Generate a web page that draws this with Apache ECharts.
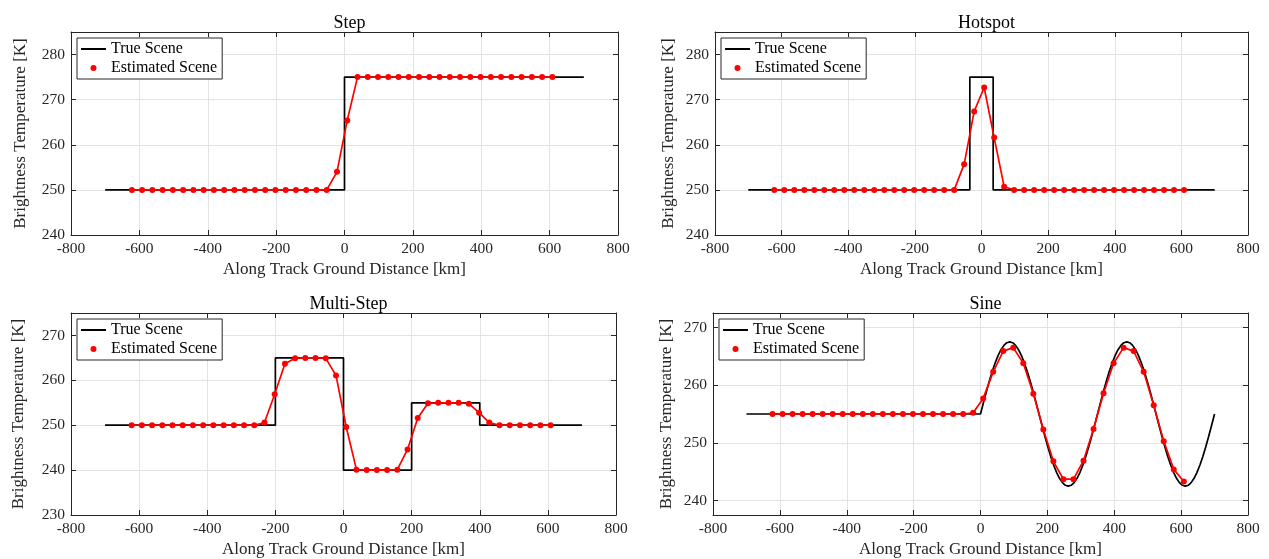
<!DOCTYPE html>
<html>
<head>
<meta charset="utf-8">
<script src="https://cdn.jsdelivr.net/npm/echarts@6/dist/echarts.min.js"></script>
<style>
html,body{margin:0;padding:0;background:#fff;}
#chart{width:1269px;height:559px;}
</style>
</head>
<body>
<div id="chart"></div>
<script>
// ---------- data ----------
const titles = ['Step', 'Hotspot', 'Multi-Step', 'Sine'];
const seriesNames = ['True Scene', 'Estimated Scene'];
const xAxisName = 'Along Track Ground Distance [km]';
const yAxisName = 'Brightness Temperature [K]';

const estX = [-622,-592,-562,-532,-502,-472,-442,-412,-382,-352,-322,-292,-262,-232,-202,-172,-142,-112,-82,-52,-22,8,38,68,98,128,158,188,218,248,278,308,338,368,398,428,458,488,518,548,578,608];

const stepTrueX = [-700, 0, 0, 700];
const stepTrueY = [250, 250, 275, 275];
const stepEstY = [250,250,250,250,250,250,250,250,250,250,250,250,250,250,250,250,250,250,250,250,254,265.4,275,275,275,275,275,275,275,275,275,275,275,275,275,275,275,275,275,275,275,275];

const hotTrueX = [-700, -35, -35, 35, 35, 700];
const hotTrueY = [250, 250, 275, 275, 250, 250];
const hotEstY = [250,250,250,250,250,250,250,250,250,250,250,250,250,250,250,250,250,250,250,255.7,267.4,272.7,261.6,250.7,250,250,250,250,250,250,250,250,250,250,250,250,250,250,250,250,250,250];

const multiTrueX = [-700, -200, -200, 0, 0, 200, 200, 400, 400, 700];
const multiTrueY = [250, 250, 265, 265, 240, 240, 255, 255, 250, 250];
const multiEstY = [250,250,250,250,250,250,250,250,250,250,250,250,250,250.6,256.9,263.7,264.9,265,265,264.9,261.1,249.6,240.1,240,240,240,240.1,244.6,251.6,254.9,255,255,255,254.8,252.8,250.6,250,250,250,250,250,250];

const sineTrueX = [-700,0,8.75,17.5,26.25,35,43.75,52.5,61.25,70,78.75,87.5,96.25,105,113.75,122.5,131.25,140,148.75,157.5,166.25,175,183.75,192.5,201.25,210,218.75,227.5,236.25,245,253.75,262.5,271.25,280,288.75,297.5,306.25,315,323.75,332.5,341.25,350,358.75,367.5,376.25,385,393.75,402.5,411.25,420,428.75,437.5,446.25,455,463.75,472.5,481.25,490,498.75,507.5,516.25,525,533.75,542.5,551.25,560,568.75,577.5,586.25,595,603.75,612.5,621.25,630,638.75,647.5,656.25,665,673.75,682.5,691.25,700];
const sineTrueY = [255,255,256.96,258.86,260.68,262.35,263.84,265.11,266.14,266.89,267.35,267.5,267.35,266.89,266.14,265.11,263.84,262.35,260.68,258.86,256.96,255,253.04,251.14,249.32,247.65,246.16,244.89,243.86,243.11,242.65,242.5,242.65,243.11,243.86,244.89,246.16,247.65,249.32,251.14,253.04,255,256.96,258.86,260.68,262.35,263.84,265.11,266.14,266.89,267.35,267.5,267.35,266.89,266.14,265.11,263.84,262.35,260.68,258.86,256.96,255,253.04,251.14,249.32,247.65,246.16,244.89,243.86,243.11,242.65,242.5,242.65,243.11,243.86,244.89,246.16,247.65,249.32,251.14,253.04,255];
const sineEstY = [255,255,255,255,255,255,255,255,255,255,255,255,255,255,255,255,255,255,255,255,255.2,257.7,262.3,265.9,266.5,263.8,258.5,252.3,246.8,243.7,243.7,246.9,252.4,258.6,263.8,266.5,265.9,262.3,256.5,250.3,245.4,243.3];

const xTicks = {min: -800, max: 800, interval: 200};
const yRanges = [
  {min: 240, max: 285, interval: 10},
  {min: 240, max: 285, interval: 10},
  {min: 230, max: 275, interval: 10},
  {min: 237.5, max: 272.5, splitNumber: 4}
];

// ---------- layout ----------
const FONT = '"Liberation Serif", "DejaVu Serif", serif';
const grids = [
  {left: 71, top: 32, width: 547, height: 203},
  {left: 715, top: 32, width: 533, height: 203},
  {left: 71, top: 313, width: 545, height: 204},
  {left: 713, top: 313, width: 535, height: 204}
];
const yNameGaps = [42, 38, 44, 38];

const panels = [
  {tx: stepTrueX, ty: stepTrueY, ey: stepEstY},
  {tx: hotTrueX, ty: hotTrueY, ey: hotEstY},
  {tx: multiTrueX, ty: multiTrueY, ey: multiEstY},
  {tx: sineTrueX, ty: sineTrueY, ey: sineEstY}
];

const axisColor = '#262626';
const gridColor = '#e3e3e3';
const option = {
  animation: false,
  backgroundColor: '#fff',
  title: [], grid: [], xAxis: [], yAxis: [], series: [], legend: []
};

panels.forEach((p, i) => {
  const g = grids[i];
  option.grid.push({left: g.left, top: g.top, width: g.width, height: g.height, show: false});
  option.title.push({
    text: titles[i],
    left: g.left + g.width / 2, top: g.top - 23, textAlign: 'center',
    textStyle: {fontFamily: FONT, fontSize: 18, fontWeight: 'normal', color: '#000'}
  });
  const tickStyle = {inside: true, length: 5, lineStyle: {color: axisColor, width: 1}};
  const labelStyle = {fontFamily: FONT, fontSize: 15.5, color: '#262626'};
  // bottom x axis
  option.xAxis.push({
    gridIndex: i, type: 'value', position: 'bottom',
    min: xTicks.min, max: xTicks.max, interval: xTicks.interval,
    name: xAxisName, nameLocation: 'middle', nameGap: 26,
    nameTextStyle: {fontFamily: FONT, fontSize: 17, color: '#262626'},
    axisLine: {show: true, onZero: false, lineStyle: {color: axisColor, width: 1}},
    axisTick: tickStyle,
    axisLabel: Object.assign({margin: 6}, labelStyle),
    splitLine: {show: true, lineStyle: {color: gridColor, width: 1}}
  });
  // top x axis (box)
  option.xAxis.push({
    gridIndex: i, type: 'value', position: 'top',
    min: xTicks.min, max: xTicks.max, interval: xTicks.interval,
    axisLine: {show: true, onZero: false, lineStyle: {color: axisColor, width: 1}},
    axisTick: tickStyle, axisLabel: {show: false}, splitLine: {show: false}
  });
  const yr = yRanges[i];
  const yBase = {min: yr.min, max: yr.max};
  if (yr.interval) yBase.interval = yr.interval; else yBase.splitNumber = yr.splitNumber;
  option.yAxis.push(Object.assign({
    gridIndex: i, type: 'value', position: 'left',
    name: yAxisName, nameLocation: 'middle', nameGap: yNameGaps[i],
    nameTextStyle: {fontFamily: FONT, fontSize: 17, color: '#262626'},
    axisLine: {show: true, onZero: false, lineStyle: {color: axisColor, width: 1}},
    axisTick: tickStyle,
    axisLabel: Object.assign({margin: 6, showMinLabel: yr.interval ? true : false, showMaxLabel: false}, labelStyle),
    splitLine: {show: true, lineStyle: {color: gridColor, width: 1}}
  }, yBase));
  option.yAxis.push(Object.assign({
    gridIndex: i, type: 'value', position: 'right',
    axisLine: {show: true, onZero: false, lineStyle: {color: axisColor, width: 1}},
    axisTick: tickStyle, axisLabel: {show: false}, splitLine: {show: false}
  }, yBase));

  option.series.push({
    name: seriesNames[0], type: 'line',
    xAxisIndex: 2 * i, yAxisIndex: 2 * i,
    data: p.tx.map((x, k) => [x, p.ty[k]]),
    showSymbol: false, symbol: 'none',
    lineStyle: {color: '#000', width: 1.7},
    itemStyle: {color: '#000'}, z: 2
  });
  option.series.push({
    name: seriesNames[1], type: 'line',
    xAxisIndex: 2 * i, yAxisIndex: 2 * i,
    data: estX.map((x, k) => [x, p.ey[k]]),
    symbol: 'circle', symbolSize: 6,
    lineStyle: {color: '#ff0000', width: 1.7},
    itemStyle: {color: '#ff0000'}, z: 3
  });
  option.legend.push({
    left: g.left + 6, top: g.top + 6, orient: 'vertical',
    data: [
      {name: seriesNames[0], icon: 'path://M0,0L25,0L25,2L0,2Z', itemStyle: {color: '#000'}},
      {name: seriesNames[1], icon: 'circle'}
    ],
    itemWidth: 25, itemHeight: 6, itemGap: 3,
    padding: [3, 5, 3, 4],
    backgroundColor: '#fff', borderColor: '#262626', borderWidth: 1,
    borderRadius: 0,
    selectedMode: false,
    textStyle: {fontFamily: FONT, fontSize: 16, color: '#000'}
  });
});

const chart = echarts.init(document.getElementById('chart'), null, {renderer: 'canvas'});
chart.setOption(option);
</script>
</body>
</html>
